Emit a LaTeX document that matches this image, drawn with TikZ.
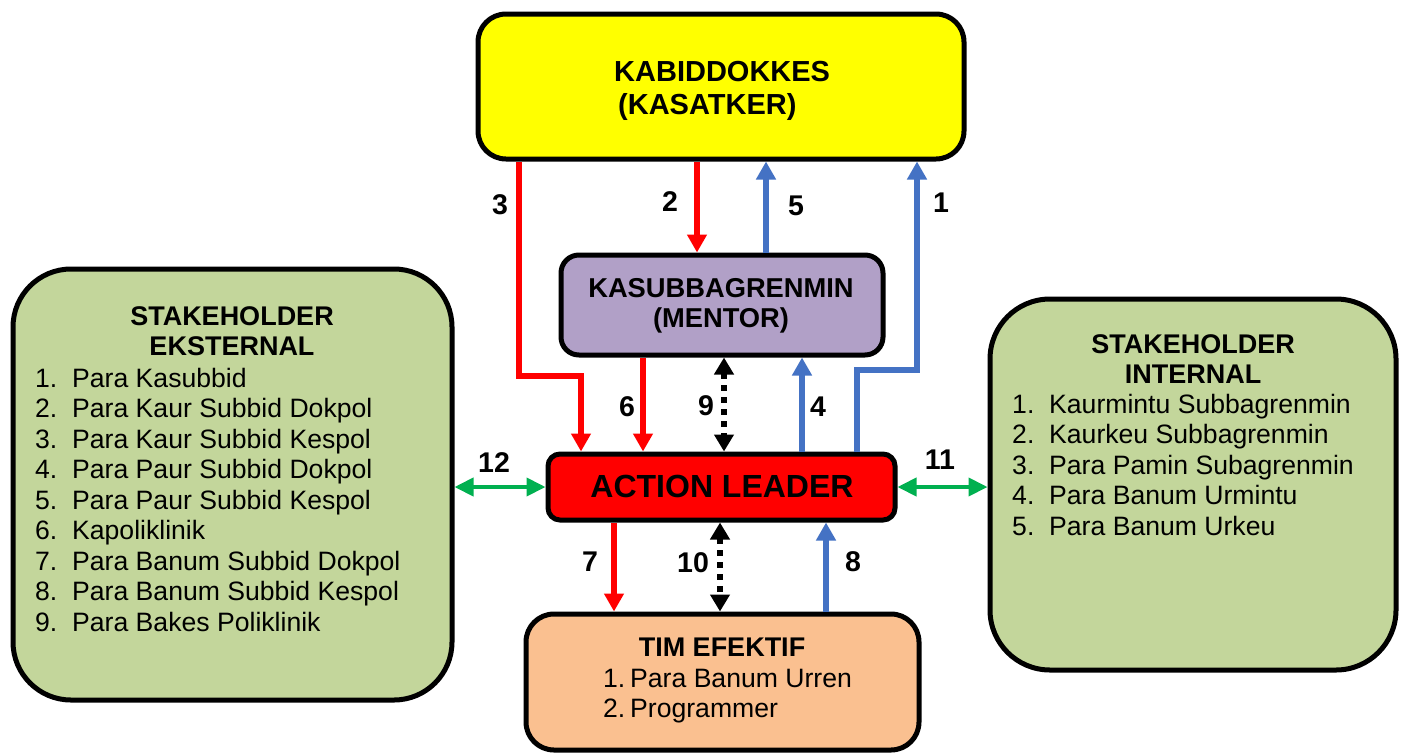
\documentclass[tikz,border=0pt]{standalone}
\usepackage{fontspec}
\setmainfont{Liberation Sans}
\usetikzlibrary{arrows.meta,calc}
\definecolor{kyellow}{HTML}{FFFF00}
\definecolor{kpurple}{HTML}{B1A0C7}
\definecolor{kred}{HTML}{FF0000}
\definecolor{kpeach}{HTML}{FAC090}
\definecolor{kgreen}{HTML}{C3D69B}
\definecolor{kblue}{HTML}{4472C4}
\definecolor{kgarrow}{HTML}{00B050}
\newcommand\myitem[1]{\makebox[37pt][l]{#1}}
\begin{document}
\begin{tikzpicture}[x=1pt,y=-1pt,
  box/.style={draw=black,line width=5pt,rectangle,inner sep=0pt,outer sep=2.5pt},
  boldtxt/.style={inner sep=0pt,font=\fontsize{27}{30.5}\selectfont\bfseries},
  listtxt/.style={inner sep=0pt,font=\fontsize{26.6}{30.5}\selectfont},
  numlbl/.style={inner sep=0pt,font=\fontsize{28.5}{30}\selectfont\bfseries},
  arr/.style={line width=6pt,-{Triangle[length=18pt,width=19pt]}},
  redarr/.style={arr,draw=kred},
  bluearr/.style={arr,draw=kblue},
  dotarr/.style={line width=6pt,draw=black,dash pattern=on 6pt off 6pt,
    {Triangle[length=17pt,width=19pt]}-{Triangle[length=17pt,width=19pt]}},
  greenarr/.style={line width=4pt,draw=kgarrow,
    {Triangle[length=19pt,width=18pt]}-{Triangle[length=19pt,width=18pt]}}
]
\useasboundingbox[fill=white] (0,0) rectangle (1402,753);

% boxes
\node[box,fill=kyellow,minimum width=486pt,minimum height=145pt,rounded corners=28pt] (kabid) at (721,86.5) {};
\node[box,fill=kpurple,minimum width=322pt,minimum height=100pt,rounded corners=18pt] (mentor) at (722,305) {};
\node[box,fill=kred,minimum width=347pt,minimum height=66pt,rounded corners=12pt] (action) at (721.5,487) {};
\node[box,fill=kpeach,minimum width=393pt,minimum height=136pt,rounded corners=28pt] (tim) at (722.5,682) {};
\node[box,fill=kgreen,minimum width=439pt,minimum height=431pt,rounded corners=58pt] (ekst) at (232.5,484.5) {};
\node[box,fill=kgreen,minimum width=406pt,minimum height=371pt,rounded corners=60pt] (intern) at (1193,484.5) {};

% texts
\node[boldtxt,anchor=base west,font=\fontsize{29}{33}\selectfont\bfseries] (kabidtxt) at (614,81)
  {\begin{tabular}[t]{@{}l@{}}KABIDDOKKES\\\hspace{4pt}(KASATKER)\end{tabular}};
\node[boldtxt,anchor=base,font=\fontsize{27.3}{30}\selectfont\bfseries] (mentortxt) at (721,297)
  {\begin{tabular}[t]{@{}c@{}}KASUBBAGRENMIN\\(MENTOR)\end{tabular}};
\node[boldtxt,anchor=base,font=\fontsize{32}{36}\selectfont\bfseries] (actiontxt) at (722,497) {ACTION LEADER};
\node[boldtxt,anchor=base] (timtitle) at (722,656) {TIM EFEKTIF};
\node[listtxt,anchor=base west] (timlist) at (603,687)
  {\begin{tabular}[t]{@{}l@{}l@{}}\makebox[27pt][l]{1.}&Para Banum Urren\\\makebox[27pt][l]{2.}&Programmer\end{tabular}};
\node[boldtxt,anchor=base] (eksttitle) at (232,325)
  {\begin{tabular}[t]{@{}c@{}}STAKEHOLDER\\EKSTERNAL\end{tabular}};
\node[listtxt,anchor=base west] (ekstlist) at (35,387)
  {\begin{tabular}[t]{@{}l@{}l@{}}
  \myitem{1.}&Para Kasubbid\\
  \myitem{2.}&Para Kaur Subbid Dokpol\\
  \myitem{3.}&Para Kaur Subbid Kespol\\
  \myitem{4.}&Para Paur Subbid Dokpol\\
  \myitem{5.}&Para Paur Subbid Kespol\\
  \myitem{6.}&Kapoliklinik\\
  \myitem{7.}&Para Banum Subbid Dokpol\\
  \myitem{8.}&Para Banum Subbid Kespol\\
  \myitem{9.}&Para Bakes Poliklinik
  \end{tabular}};
\node[boldtxt,anchor=base] (interntitle) at (1193,353)
  {\begin{tabular}[t]{@{}c@{}}STAKEHOLDER\\INTERNAL\end{tabular}};
\node[listtxt,anchor=base west] (internlist) at (1012,413)
  {\begin{tabular}[t]{@{}l@{}l@{}}
  \myitem{1.}&Kaurmintu Subbagrenmin\\
  \myitem{2.}&Kaurkeu Subbagrenmin\\
  \myitem{3.}&Para Pamin Subagrenmin\\
  \myitem{4.}&Para Banum Urmintu\\
  \myitem{5.}&Para Banum Urkeu
  \end{tabular}};

% connectors
\coordinate (bend3) at (581,376);
\coordinate (bend1) at (917,370);
\draw[redarr] ([xshift=-202pt]kabid.south) |- (bend3) -- ([xshift=-140.5pt]action.north);
\draw[redarr] ([xshift=-24pt]kabid.south) -- ([xshift=-25pt]mentor.north);
\draw[bluearr] ([xshift=44pt]mentor.north) -- ([xshift=45pt]kabid.south);
\draw[bluearr] ([xshift=135.5pt]action.north) |- (bend1) -- ([xshift=196pt]kabid.south);
\draw[redarr] ([xshift=-79pt]mentor.south) -- ([xshift=-78.5pt]action.north);
\draw[dotarr] ([xshift=2pt]mentor.south) -- ([xshift=2.5pt]action.north);
\draw[bluearr] ([xshift=80.5pt]action.north) -- ([xshift=80pt]mentor.south);
\draw[redarr] ([xshift=-107.5pt]action.south) -- ([xshift=-108.5pt]tim.north);
\draw[dotarr] ([xshift=-1.5pt]action.south) -- ([xshift=-2.5pt]tim.north);
\draw[bluearr] ([xshift=103.5pt]tim.north) -- ([xshift=104.5pt]action.south);
\draw[greenarr] (ekst.east |- action.west) -- (action.west);
\draw[greenarr] (action.east) -- (intern.west |- action.east);

% labels
\node[numlbl] (l1) at (941,203) {1};
\node[numlbl] (l2) at (670,202) {2};
\node[numlbl] (l3) at (500,205) {3};
\node[numlbl] (l4) at (818,407) {4};
\node[numlbl] (l5) at (796,206) {5};
\node[numlbl] (l6) at (627,407) {6};
\node[numlbl] (l7) at (590,562) {7};
\node[numlbl] (l8) at (853,562) {8};
\node[numlbl] (l9) at (706,406) {9};
\node[numlbl] (l10) at (693,563) {10};
\node[numlbl] (l11) at (940,460) {11};
\node[numlbl] (l12) at (494,463) {12};
\end{tikzpicture}
\end{document}
